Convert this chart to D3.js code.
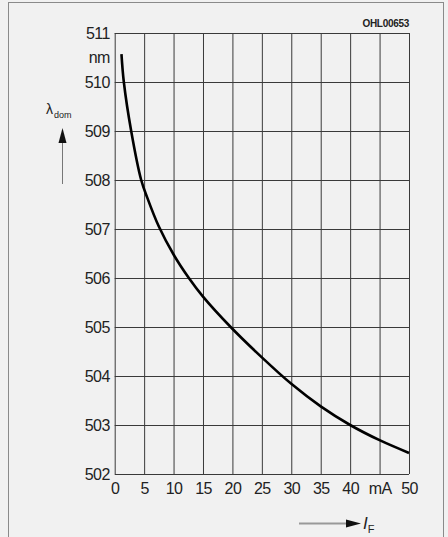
<!DOCTYPE html>
<html>
<head>
<meta charset="utf-8">
<script src="https://cdn.jsdelivr.net/npm/d3@7"></script>
<style>
  body { margin: 0; background: #f1f1f1; }
  svg { display: block; }
  text { font-family: "Liberation Sans", Arial, sans-serif; fill: #222; }
</style>
</head>
<body>
<svg width="448" height="537"></svg>
<script>
// forward current (mA) vs dominant wavelength (nm)
var currentMA  = [1.15, 1.55, 2.8, 4.5, 5.5, 7.5, 10, 12.6, 15, 19.7, 25, 30, 35, 40, 45, 50];
var wavelength = [510.57, 510.0, 509.0, 508.0, 507.65, 507.05, 506.48, 506.0, 505.62, 505.0, 504.38, 503.84, 503.38, 503.0, 502.69, 502.43];

var xTicks = [0, 5, 10, 15, 20, 25, 30, 35, 40, 45, 50];
var xTickLabels = ["0", "5", "10", "15", "20", "25", "30", "35", "40", "mA", "50"];
var yTicks = [502, 503, 504, 505, 506, 507, 508, 509, 510, 511];

var svg = d3.select("svg");

// outer frame of the figure
svg.append("rect")
    .attr("x", 8.5).attr("y", 2.5)
    .attr("width", 435).attr("height", 560)
    .attr("fill", "none")
    .attr("stroke", "#8a8a8a")
    .attr("stroke-width", 1);

var plotLeft = 114.7, plotRight = 409, plotTop = 33, plotBottom = 474;

var x = d3.scaleLinear().domain([0, 50]).range([plotLeft, plotRight]);
var y = d3.scaleLinear().domain([502, 511]).range([plotBottom, plotTop]);

// grid + labels via axes
var gx = svg.append("g")
    .attr("transform", "translate(0," + plotBottom + ")")
    .call(d3.axisBottom(x)
      .tickValues(xTicks)
      .tickSize(-(plotBottom - plotTop))
      .tickPadding(9)
      .tickFormat(function(d, i) { return xTickLabels[i]; }));

var gy = svg.append("g")
    .attr("transform", "translate(" + plotLeft + ",0)")
    .call(d3.axisLeft(y)
      .tickValues(yTicks)
      .tickSize(-(plotRight - plotLeft))
      .tickPadding(5)
      .tickFormat(d3.format("d")));

[gx, gy].forEach(function(g) {
  g.select(".domain").remove();
  g.selectAll(".tick line").attr("stroke", "#3a3a3a").attr("stroke-width", 1);
  g.selectAll(".tick text")
    .attr("font-size", 16)
    .attr("letter-spacing", -0.6)
    .attr("fill", "#222");
});

// unit label between 511 and 510
svg.append("text")
    .attr("x", plotLeft - 5).attr("y", y(510.5))
    .attr("dy", "0.32em")
    .attr("text-anchor", "end")
    .attr("font-size", 16)
    .attr("letter-spacing", -0.6)
    .text("nm");

// the curve
var line = d3.line()
    .x(function(d) { return x(d[0]); })
    .y(function(d) { return y(d[1]); })
    .curve(d3.curveCatmullRom.alpha(0.5));

svg.append("path")
    .datum(d3.zip(currentMA, wavelength))
    .attr("fill", "none")
    .attr("stroke", "#000")
    .attr("stroke-width", 2.6)
    .attr("d", line);

// figure code
svg.append("text")
    .attr("x", plotRight).attr("y", 27)
    .attr("text-anchor", "end")
    .attr("font-size", 10)
    .attr("font-weight", "bold")
    .attr("letter-spacing", -0.3)
    .text("OHL00653");

// y axis name with arrow
var yl = svg.append("text")
    .attr("x", 46).attr("y", 114)
    .attr("font-size", 14);
yl.append("tspan").text("λ");
yl.append("tspan").attr("font-size", 9).attr("dy", 4).attr("dx", 1).text("dom");

svg.append("line")
    .attr("x1", 62.5).attr("y1", 184)
    .attr("x2", 62.5).attr("y2", 140)
    .attr("stroke", "#777").attr("stroke-width", 1);
svg.append("path")
    .attr("d", "M62.5,128 L58.5,143 L66.5,143 Z")
    .attr("fill", "#111");

// x axis name with arrow
svg.append("line")
    .attr("x1", 299).attr("y1", 523.5)
    .attr("x2", 350).attr("y2", 523.5)
    .attr("stroke", "#999").attr("stroke-width", 2);
svg.append("path")
    .attr("d", "M361,523.5 L346,519.5 L346,527.5 Z")
    .attr("fill", "#111");
var xl = svg.append("text")
    .attr("x", 363).attr("y", 529)
    .attr("font-size", 17)
    .attr("font-style", "italic")
    .attr("font-family", "'Liberation Serif', serif");
xl.append("tspan").text("I");
xl.append("tspan").attr("font-size", 11).attr("dy", 4)
    .attr("font-style", "normal")
    .attr("font-family", "'Liberation Sans', sans-serif")
    .text("F");
</script>
</body>
</html>
